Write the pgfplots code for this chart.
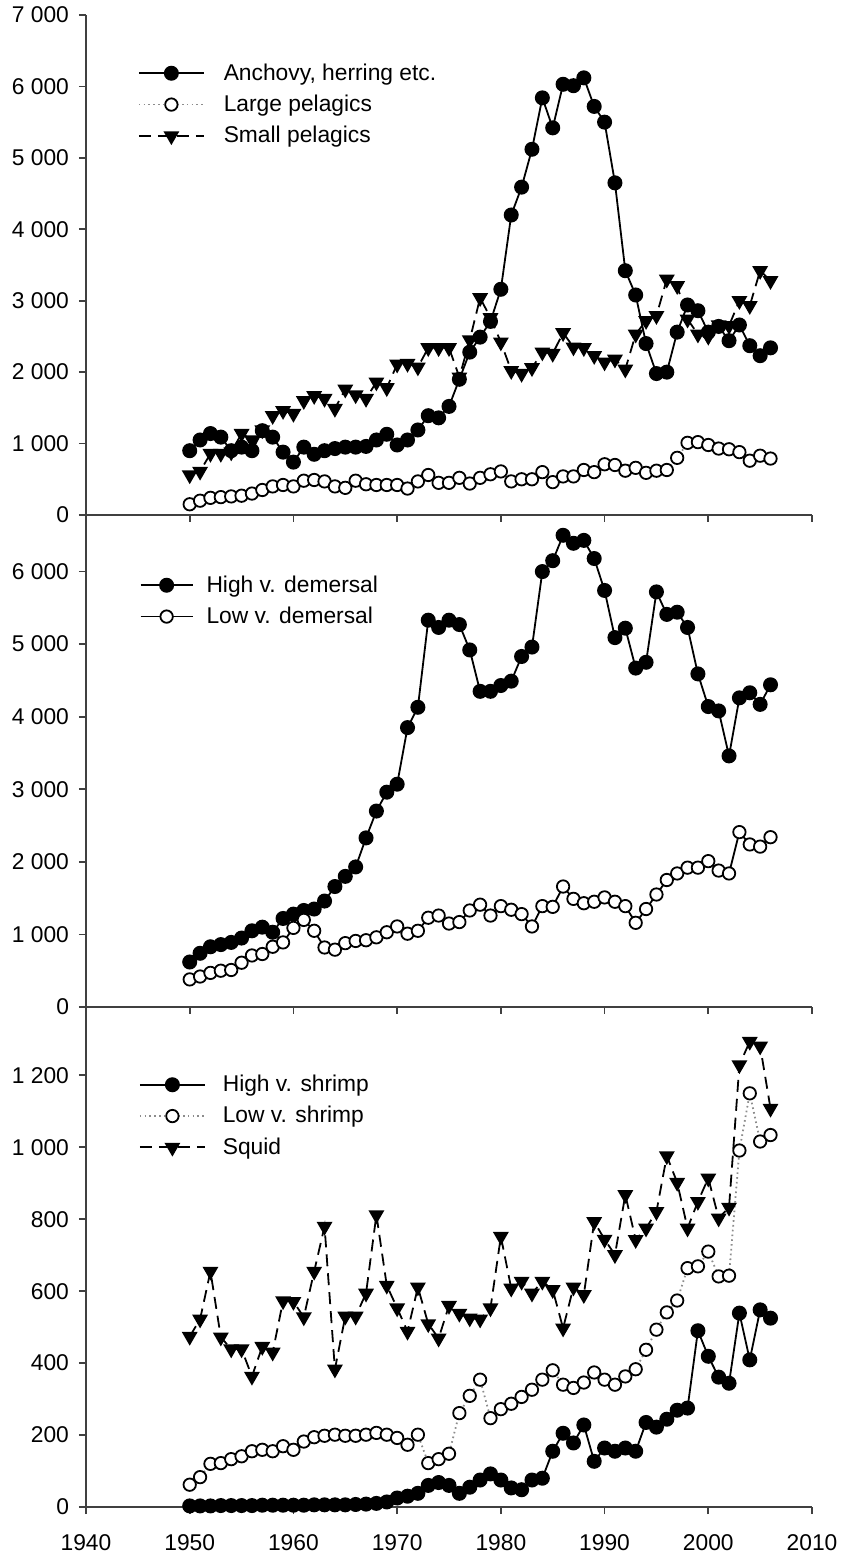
\documentclass[border=0pt]{standalone}
\usepackage{pgfplots}
\pgfplotsset{compat=1.18}
\usepackage{pgfplotstable}
\usepackage{fontspec}
\setmainfont{Liberation Sans}

\pgfplotstableread{
year A L S HD LD HS LS SQ
1950 900 150 560 620 380 3 62 474
1951 1050 200 610 740 420 3 83 522
1952 1140 240 860 830 470 3 120 655
1953 1090 250 860 860 500 4 122 472
1954 900 260 880 890 510 4 133 439
1955 950 270 1140 950 610 4 141 439
1956 900 300 1050 1050 710 4 155 363
1957 1180 350 1190 1100 730 5 159 446
1958 1090 400 1390 1030 830 5 155 430
1959 880 420 1460 1220 890 5 169 573
1960 740 400 1420 1280 1090 5 159 571
1961 950 480 1600 1330 1200 5 182 528
1962 850 490 1670 1350 1050 6 194 655
1963 900 470 1630 1460 820 6 198 780
1964 930 400 1490 1660 790 6 201 383
1965 950 380 1760 1800 880 6 198 530
1966 950 480 1680 1930 910 7 198 530
1967 960 430 1630 2330 920 8 201 594
1968 1050 420 1860 2700 960 10 206 812
1969 1130 420 1780 2960 1030 14 201 616
1970 980 420 2110 3070 1110 25 192 553
1971 1050 370 2120 3850 1010 30 173 488
1972 1190 470 2070 4130 1050 38 201 611
1973 1390 560 2340 5330 1230 60 122 509
1974 1360 450 2340 5230 1260 68 133 469
1975 1520 450 2340 5330 1150 60 148 560
1976 1900 520 1930 5270 1170 38 261 538
1977 2280 440 2450 4920 1330 55 309 525
1978 2490 520 3040 4350 1410 75 354 522
1979 2710 570 2760 4350 1260 92 247 553
1980 3160 610 2420 4430 1390 75 272 752
1981 4200 470 2020 4490 1340 53 287 608
1982 4590 500 1980 4830 1280 48 306 627
1983 5120 500 2060 4960 1110 75 326 594
1984 5840 600 2280 6000 1390 80 354 627
1985 5420 460 2260 6150 1380 155 380 604
1986 6030 540 2550 6500 1660 205 340 497
1987 6010 540 2350 6390 1490 178 331 611
1988 6120 630 2340 6430 1430 228 346 590
1989 5720 600 2230 6180 1450 127 374 793
1990 5500 710 2140 5740 1510 164 354 744
1991 4650 700 2180 5090 1450 155 340 701
1992 3420 620 2040 5220 1390 164 363 868
1993 3080 660 2530 4670 1160 155 383 743
1994 2400 590 2720 4750 1350 235 437 775
1995 1980 620 2790 5720 1550 222 493 821
1996 2000 630 3300 5410 1750 244 541 976
1997 2560 800 3210 5440 1840 269 574 902
1998 2940 1010 2740 5230 1920 275 664 775
1999 2860 1020 2530 4590 1920 490 669 849
2000 2560 980 2500 4140 2010 419 710 914
2001 2640 930 2660 4080 1880 361 641 803
2002 2440 920 2650 3460 1840 344 643 833
2003 2660 880 3000 4260 2410 539 991 1229
2004 2370 760 2930 4330 2240 409 1150 1294
2005 2230 830 3420 4170 2210 548 1016 1281
2006 2340 790 3280 4440 2340 525 1034 1108
}\data

\definecolor{axc}{gray}{0.25}

\pgfplotsset{
  panel/.style={
    scale only axis, width=363pt,
    xmin=1940, xmax=2010, xtick={1940,1950,...,2010},
    axis x line=bottom, axis y line=left,
    axis line style={-, line width=0.9pt, draw=axc},
    every tick/.style={line width=0.9pt, draw=axc},
    tick align=outside, major tick length=3.5pt,
    /pgf/number format/assume math mode=true,
    /pgf/number format/1000 sep={\ },
    tick label style={font=\fontsize{11.4}{13}\selectfont, text=black},
    yticklabel style={xshift=-1.5pt},
    xticklabel style={yshift=-7pt},
    clip=false,
    legend cell align=left,
    legend style={draw=none, fill=none, inner sep=0pt, outer sep=0pt,
      row sep=5.9pt, nodes={inner sep=0pt},
      font=\fontsize{11.4}{13}\selectfont},
  },
  fillc/.style={solid, black, line width=0.9pt, mark=*, mark size=3.3pt,
     mark options={solid, fill=black, draw=black}},
  openc/.style={mark=*, mark size=3.1pt,
     mark options={solid, fill=white, draw=black, line width=0.9pt}},
  tri/.style={dashed, dash pattern=on 6pt off 3.5pt, black, line width=0.9pt,
     mark=triangle*, mark size=3.7pt,
     mark options={solid, fill=black, draw=black, rotate=180}},
  dotl/.style={draw=black!45, line width=0.9pt, dash pattern=on 0.8pt off 1.6pt},
  legimg/.style 2 args={legend image code/.code={
     \draw[mark repeat=2, mark phase=2, ##1] plot coordinates {(0pt,0pt) (#1,0pt) (2*#1,0pt)};
     \path (#2,0pt);}},
}

\begin{document}
\begin{tikzpicture}
\path[use as bounding box] (-43pt,-25pt) rectangle (379.5pt,753.5pt);

% Panel 1
\begin{axis}[panel, at={(0pt,496pt)}, anchor=south west, height=250pt,
  ymin=0, ymax=7000, ytick={0,1000,...,7000}, xticklabels={},
  legimg={16.25pt}{42pt},
  legend style={at={(0.0716,0.903)}, anchor=north west}]
\addplot[fillc] table[x=year, y=A] {\data};
\addlegendentry{Anchovy, herring etc.}
\addplot[dotl, openc] table[x=year, y=L] {\data};
\addlegendentry{Large pelagics}
\addplot[tri] table[x=year, y=S] {\data};
\addlegendentry{Small pelagics}
\end{axis}

% Panel 2
\begin{axis}[panel, at={(0pt,250pt)}, anchor=south west, height=246pt,
  ymin=0, ymax=6780, ytick={0,1000,...,6000}, xticklabels={},
  legimg={13pt}{32.5pt},
  legend style={at={(0.074,0.877)}, anchor=north west}]
\addplot[fillc] table[x=year, y=HD] {\data};
\addlegendentry{High v. demersal}
\addplot[solid, black, line width=0.9pt, openc] table[x=year, y=LD] {\data};
\addlegendentry{Low v. demersal}
\end{axis}

% Panel 3
\begin{axis}[panel, at={(0pt,0pt)}, anchor=south west, height=250pt,
  ymin=0, ymax=1390, ytick={0,200,...,1200},
  xticklabel style={/pgf/number format/1000 sep={}},
  legimg={16.25pt}{41pt},
  legend style={at={(0.073,0.864)}, anchor=north west}]
\addplot[fillc] table[x=year, y=HS] {\data};
\addlegendentry{High v. shrimp}
\addplot[dotl, openc] table[x=year, y=LS] {\data};
\addlegendentry{Low v. shrimp}
\addplot[tri] table[x=year, y=SQ] {\data};
\addlegendentry{Squid}
\end{axis}
\end{tikzpicture}
\end{document}
